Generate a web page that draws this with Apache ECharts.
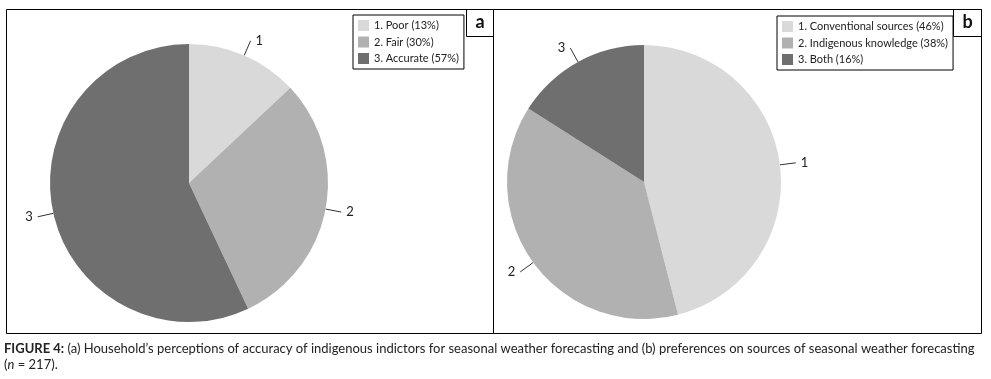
<!DOCTYPE html>
<html>
<head>
<meta charset="utf-8">
<script src="https://cdn.jsdelivr.net/npm/echarts@6/dist/echarts.min.js"></script>
<style>
  html, body { margin: 0; padding: 0; background: #fff; }
  #show { width: 991px; height: 379px; }
</style>
</head>
<body>
<div id="show"></div>
<script>
var myChart = echarts.init(document.getElementById('show'));

// panel a: perceived accuracy of indigenous indicators
var accuracyNames = ['1. Poor (13%)', '2. Fair (30%)', '3. Accurate (57%)'];
var accuracyValues = [13, 30, 57];

// panel b: preferred source of forecasts
var sourceNames = ['1. Conventional sources (46%)', '2. Indigenous knowledge (38%)', '3. Both (16%)'];
var sourceValues = [46, 38, 16];

var shades = ['#d9d9d9', '#b1b1b1', '#6f6f6f'];
var font = 'Lato';

function pieData(names, values) {
    return names.map(function (n, i) {
        return { name: n, value: values[i], itemStyle: { color: shades[i] } };
    });
}

function pieSeries(names, values, center, radius) {
    return {
        type: 'pie',
        center: center,
        radius: radius,
        startAngle: 90,
        clockwise: true,
        silent: true,
        animation: false,
        data: pieData(names, values),
        label: {
            show: true,
            position: 'outside',
            formatter: function (p) { return String(p.dataIndex + 1); },
            color: '#222',
            fontFamily: font,
            fontSize: 13
        },
        labelLine: {
            show: true,
            length: 16,
            length2: 0,
            lineStyle: { color: '#333', width: 1 }
        }
    };
}

function legendBox(names, left, top) {
    return {
        data: names,
        orient: 'vertical',
        left: left,
        top: top,
        icon: 'rect',
        itemWidth: 11,
        itemHeight: 11,
        itemGap: 5.5,
        padding: [5, 5, 5, 5],
        borderColor: '#000',
        borderWidth: 1,
        selectedMode: false,
        textStyle: { fontFamily: font, fontSize: 11, color: '#222' }
    };
}

function frame(x, y, w, h) {
    return {
        type: 'rect',
        shape: { x: x, y: y, width: w, height: h },
        style: { fill: null, stroke: '#000', lineWidth: 1 },
        silent: true
    };
}

function tag(text, x, y) {
    return {
        type: 'text',
        x: x,
        y: y,
        style: {
            text: text,
            fontFamily: font,
            fontWeight: 'bold',
            fontSize: 18,
            fill: '#111',
            align: 'center',
            verticalAlign: 'middle'
        },
        silent: true
    };
}

myChart.setOption({
    backgroundColor: '#fff',
    animation: false,
    legend: [
        legendBox(accuracyNames, 353, 15),
        legendBox(sourceNames, 777, 16)
    ],
    series: [
        pieSeries(accuracyNames, accuracyValues, [189, 183], 139),
        pieSeries(sourceNames, sourceValues, [644, 182], 137)
    ],
    graphic: [
        frame(6.5, 9.5, 487, 324),
        frame(493.5, 9.5, 488, 324),
        frame(466.5, 9.5, 27, 27),
        frame(953.5, 9.5, 28, 27),
        tag('a', 480, 22),
        tag('b', 967.5, 22),
        {
            type: 'text',
            x: 4,
            y: 349,
            style: {
                text: '{b|FIGURE 4:} (a) Household’s perceptions of accuracy of indigenous indictors for seasonal weather forecasting and (b) preferences on sources of seasonal weather forecasting',
                fontFamily: font,
                fontSize: 13,
                fill: '#222',
                verticalAlign: 'middle',
                rich: { b: { fontWeight: 'bold', fontFamily: font, fontSize: 13, fill: '#222' } }
            },
            silent: true
        },
        {
            type: 'text',
            x: 4,
            y: 365,
            style: {
                text: '({i|n} = 217).',
                fontFamily: font,
                fontSize: 13,
                fill: '#222',
                verticalAlign: 'middle',
                rich: { i: { fontStyle: 'italic', fontFamily: font, fontSize: 13, fill: '#222' } }
            },
            silent: true
        }
    ]
});
</script>
</body>
</html>
